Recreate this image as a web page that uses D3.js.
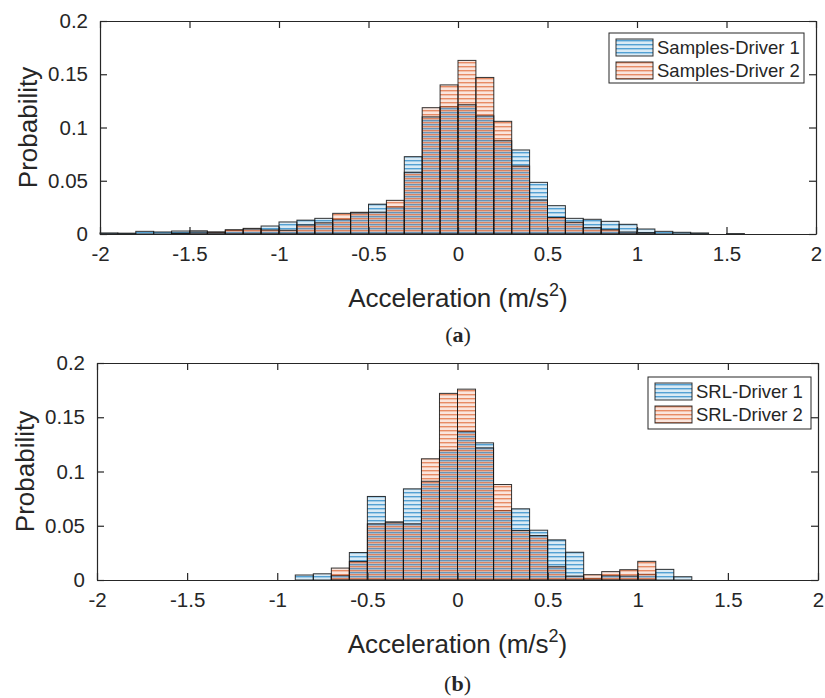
<!DOCTYPE html>
<html>
<head>
<meta charset="utf-8">
<script src="https://cdn.jsdelivr.net/npm/d3@7"></script>
<style>
  body { margin: 0; background: #fff; }
  svg text { font-family: "Liberation Sans", Arial, sans-serif; fill: #262626; }
</style>
</head>
<body>
<svg id="chart" width="825" height="698"></svg>
<script>
// bin left edges, -2.0 ... 1.9 (width 0.1)
const binStarts = d3.range(40).map(i => Math.round((-2 + i * 0.1) * 10) / 10);
const binWidth = 0.1;
const xTicks = [-2, -1.5, -1, -0.5, 0, 0.5, 1, 1.5, 2];
const yTicks = [0, 0.05, 0.1, 0.15, 0.2];

// (a) recorded samples
const samplesDriver1 = [0.001, 0.0008, 0.0025, 0.0019, 0.0028, 0.003, 0.0015, 0.0035, 0.0047, 0.0075,
  0.0113, 0.013, 0.0147, 0.0138, 0.0198, 0.028, 0.0254, 0.0726, 0.110, 0.1195,
  0.1214, 0.111, 0.0876, 0.0789, 0.0485, 0.0266, 0.0147, 0.0138, 0.0119, 0.0091,
  0.0047, 0.0025, 0.0016, 0.001, 0, 0.0004, 0, 0, 0, 0];
const samplesDriver2 = [0, 0, 0, 0, 0.0008, 0.0019, 0.002, 0.004, 0.0053, 0.0038,
  0.0035, 0.0085, 0.0105, 0.0194, 0.0204, 0.0205, 0.0316, 0.058, 0.1186, 0.140,
  0.163, 0.147, 0.1058, 0.0638, 0.032, 0.0155, 0.011, 0.006, 0.004, 0.0019,
  0.0013, 0, 0, 0, 0, 0, 0, 0, 0, 0];

// (b) SRL
const srlDriver1 = [0, 0, 0, 0, 0, 0, 0, 0, 0, 0,
  0, 0.0046, 0.0057, 0.0042, 0.0253, 0.077, 0.0536, 0.084, 0.091, 0.1197,
  0.1369, 0.1264, 0.064, 0.0656, 0.0459, 0.037, 0.0256, 0.0015, 0.004, 0.0037,
  0.0052, 0.0098, 0.003, 0, 0, 0, 0, 0, 0, 0];
const srlDriver2 = [0, 0, 0, 0, 0, 0, 0, 0, 0, 0,
  0, 0, 0, 0.011, 0.017, 0.0518, 0.0527, 0.0518, 0.1117, 0.172,
  0.1759, 0.1218, 0.088, 0.0456, 0.041, 0.0122, 0.0036, 0.0049, 0.0077, 0.0095,
  0.0172, 0, 0, 0, 0, 0, 0, 0, 0, 0];

const blue = "#0072BD", orange = "#D95319";

var svg = d3.select("#chart");
var defs = svg.append("defs");

// striped fills (light body, darker line every 4px)
function stripes(id, color, offset) {
  var p = defs.append("pattern")
    .attr("id", id)
    .attr("patternUnits", "userSpaceOnUse")
    .attr("width", 6).attr("height", 4);
  p.append("rect").attr("width", 6).attr("height", 4)
    .attr("fill", color).attr("fill-opacity", 0.15);
  p.append("rect").attr("y", offset).attr("width", 6).attr("height", 1.4)
    .attr("fill", color).attr("fill-opacity", 0.62);
}
stripes("pb", blue, 0);
stripes("po", orange, 2);

function drawPanel(cfg) {
  var x = d3.scaleLinear().domain([-2, 2]).range([cfg.left, cfg.right]);
  var y = d3.scaleLinear().domain([0, 0.2]).range([cfg.bottom, cfg.top]);
  var g = svg.append("g");

  // bars
  [[cfg.s1, "pb"], [cfg.s2, "po"]].forEach(function(s) {
    g.selectAll(null)
      .data(binStarts.map((b, i) => ({x0: b, v: s[0][i]})).filter(d => d.v > 0))
      .enter()
      .append("rect")
        .attr("x", d => x(d.x0))
        .attr("y", d => y(d.v))
        .attr("width", d => x(d.x0 + binWidth) - x(d.x0))
        .attr("height", d => y(0) - y(d.v))
        .attr("fill", "url(#" + s[1] + ")")
        .attr("stroke", "#111")
        .attr("stroke-opacity", 0.85)
        .attr("stroke-width", 1);
  });

  // axes, ticks inside, box on
  var tl = 7;
  g.append("g").attr("transform", "translate(0," + cfg.bottom + ")")
    .call(d3.axisBottom(x).tickValues(xTicks).tickSizeInner(-tl).tickSizeOuter(0).tickPadding(12)
      .tickFormat(d3.format("")));
  g.append("g").attr("transform", "translate(0," + cfg.top + ")")
    .call(d3.axisTop(x).tickValues(xTicks).tickSizeInner(-tl).tickSizeOuter(0).tickFormat(""));
  g.append("g").attr("transform", "translate(" + cfg.left + ",0)")
    .call(d3.axisLeft(y).tickValues(yTicks).tickSizeInner(-tl).tickSizeOuter(0).tickPadding(12)
      .tickFormat(d3.format("")));
  g.append("g").attr("transform", "translate(" + cfg.right + ",0)")
    .call(d3.axisRight(y).tickValues(yTicks).tickSizeInner(-tl).tickSizeOuter(0).tickFormat(""));
  g.selectAll(".domain").attr("stroke", "#262626").attr("stroke-width", 1.2);
  g.selectAll(".tick line").attr("stroke", "#262626").attr("stroke-width", 1.2);
  g.selectAll(".tick text").attr("font-size", 20.5).attr("fill", "#262626")
    .style("font-family", '"Liberation Sans", Arial, sans-serif');
  // plain hyphen minus as in matlab
  g.selectAll(".tick text").text(function() { return d3.select(this).text().replace("−", "-"); });

  // axis labels
  g.append("text")
    .attr("transform", "translate(" + (cfg.left - 63) + "," + ((cfg.top + cfg.bottom) / 2) + ") rotate(-90)")
    .attr("text-anchor", "middle")
    .attr("font-size", 26)
    .text("Probability");
  var xl = g.append("text")
    .attr("x", (cfg.left + cfg.right) / 2)
    .attr("y", cfg.bottom + 73)
    .attr("text-anchor", "middle")
    .attr("font-size", 26)
    .text("Acceleration (m/s");
  xl.append("tspan").attr("dy", -11).attr("font-size", 18).text("2");
  xl.append("tspan").attr("dy", 11).text(")");

  // legend
  var L = cfg.legend;
  g.append("rect")
    .attr("x", L.x).attr("y", L.y).attr("width", L.w).attr("height", L.h)
    .attr("fill", "#fff").attr("stroke", "#262626").attr("stroke-width", 1);
  L.items.forEach(function(it, i) {
    var ry = L.y + 6 + i * 23;
    g.append("rect")
      .attr("x", L.x + 7).attr("y", ry).attr("width", L.sw).attr("height", 17)
      .attr("fill", "url(#" + it.p + ")")
      .attr("stroke", "#111").attr("stroke-opacity", 0.85);
    g.append("text")
      .attr("x", L.x + L.sw + 11).attr("y", ry + 15)
      .attr("font-size", 18.5).attr("fill", "#000")
      .text(it.label);
  });

  // caption
  var c = svg.append("text")
    .attr("x", (cfg.left + cfg.right) / 2)
    .attr("y", cfg.caption)
    .attr("text-anchor", "middle")
    .attr("font-size", 22)
    .style("font-family", '"Liberation Serif", "DejaVu Serif", serif')
    .attr("fill", "#000");
  c.append("tspan").text("(");
  c.append("tspan").attr("font-weight", "bold").text(cfg.tag);
  c.append("tspan").text(")");
}

drawPanel({
  left: 100, right: 816, top: 21, bottom: 234,
  s1: samplesDriver1, s2: samplesDriver2,
  legend: {x: 609, y: 33, w: 195, h: 50, sw: 37,
    items: [{label: "Samples-Driver 1", p: "pb"}, {label: "Samples-Driver 2", p: "po"}]},
  tag: "a", caption: 342
});
drawPanel({
  left: 97, right: 818, top: 363, bottom: 580,
  s1: srlDriver1, s2: srlDriver2,
  legend: {x: 648, y: 377, w: 163, h: 52, sw: 37,
    items: [{label: "SRL-Driver 1", p: "pb"}, {label: "SRL-Driver 2", p: "po"}]},
  tag: "b", caption: 691
});
</script>
</body>
</html>
